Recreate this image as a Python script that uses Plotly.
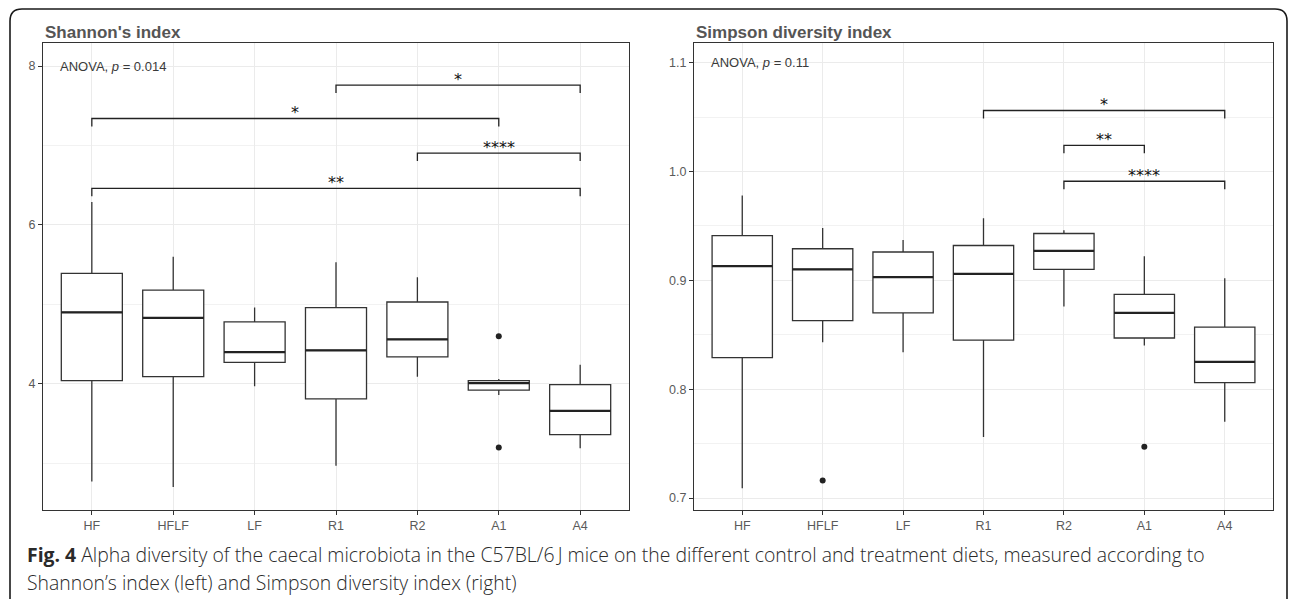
import plotly.graph_objects as go
from plotly.subplots import make_subplots

groups = ["HF", "HFLF", "LF", "R1", "R2", "A1", "A4"]
positions = list(range(len(groups)))

# Shannon's index (box statistics)
shannon_lower = [2.77, 2.70, 3.97, 2.97, 4.09, 3.86, 3.19]
shannon_q1 = [4.04, 4.09, 4.27, 3.81, 4.34, 3.92, 3.36]
shannon_median = [4.90, 4.83, 4.40, 4.42, 4.56, 4.01, 3.66]
shannon_q3 = [5.39, 5.18, 4.78, 4.96, 5.03, 4.04, 3.99]
shannon_upper = [6.29, 5.60, 4.96, 5.53, 5.34, 4.06, 4.24]
shannon_outlier_group = ["A1", "A1"]
shannon_outlier_value = [4.60, 3.20]

# Simpson diversity index (box statistics)
simpson_lower = [0.709, 0.843, 0.834, 0.756, 0.876, 0.840, 0.770]
simpson_q1 = [0.829, 0.863, 0.870, 0.845, 0.910, 0.847, 0.806]
simpson_median = [0.913, 0.910, 0.903, 0.906, 0.927, 0.870, 0.825]
simpson_q3 = [0.941, 0.929, 0.926, 0.932, 0.943, 0.887, 0.857]
simpson_upper = [0.978, 0.948, 0.937, 0.957, 0.946, 0.922, 0.902]
simpson_outlier_group = ["HFLF", "A1"]
simpson_outlier_value = [0.716, 0.747]

# Significance brackets: (group a, group b, height, label)
shannon_brackets = [("R1", "A4", 7.76, "*"), ("HF", "A1", 7.34, "*"),
                    ("R2", "A4", 6.905, "****"), ("HF", "A4", 6.46, "**")]
simpson_brackets = [("R1", "A4", 1.056, "*"), ("R2", "A1", 1.024, "**"),
                    ("R2", "A4", 0.991, "****")]

anova_labels = ["ANOVA, <i>p</i> = 0.014", "ANOVA, <i>p</i> = 0.11"]
anova_y = [8.0, 1.1]
panel_titles = ["Shannon's index", "Simpson diversity index"]

W, H = 1290, 599
def px(x):
    return x / W
def py(y):
    return 1 - y / H

fig = make_subplots(rows=1, cols=2)
LINE = "#333333"
BOXW = 0.75

panels = [
    dict(lower=shannon_lower, q1=shannon_q1, med=shannon_median, q3=shannon_q3, upper=shannon_upper,
         og=shannon_outlier_group, ov=shannon_outlier_value, br=shannon_brackets, tip=0.1,
         yrange=[2.412, 8.29], dtick=2, minor=1, fmt=".0f", tick0=0),
    dict(lower=simpson_lower, q1=simpson_q1, med=simpson_median, q3=simpson_q3, upper=simpson_upper,
         og=simpson_outlier_group, ov=simpson_outlier_value, br=simpson_brackets, tip=0.0073,
         yrange=[0.689, 1.118], dtick=0.1, minor=0.05, fmt=".1f", tick0=0),
]

for c, p in enumerate(panels, start=1):
    xr = f"x{c}" if c > 1 else "x"
    yr = f"y{c}" if c > 1 else "y"
    fig.add_trace(go.Box(x=positions, q1=p["q1"], median=p["med"], q3=p["q3"],
                         lowerfence=p["lower"], upperfence=p["upper"],
                         width=BOXW, whiskerwidth=0, boxpoints=False,
                         fillcolor="white", line=dict(color=LINE, width=1.3),
                         showlegend=False, hoverinfo="skip"), row=1, col=c)
    # thicker median lines
    mx, my = [], []
    for i, m in zip(positions, p["med"]):
        mx += [i - BOXW / 2, i + BOXW / 2, None]
        my += [m, m, None]
    fig.add_trace(go.Scatter(x=mx, y=my, mode="lines", line=dict(color="#222222", width=2.3),
                             showlegend=False, hoverinfo="skip"), row=1, col=c)
    # outliers
    fig.add_trace(go.Scatter(x=[groups.index(g) for g in p["og"]], y=p["ov"], mode="markers",
                             marker=dict(color="#222222", size=6),
                             showlegend=False, hoverinfo="skip"), row=1, col=c)
    # brackets
    bx, by = [], []
    for a, b, h, lab in p["br"]:
        ia, ib = groups.index(a), groups.index(b)
        bx += [ia, ia, ib, ib, None]
        by += [h - p["tip"], h, h, h - p["tip"], None]
        fig.add_annotation(x=(ia + ib) / 2, y=h, text=lab, showarrow=False,
                           xref=xr, yref=yr, yanchor="bottom", yshift=-6,
                           font=dict(family="DejaVu Sans", size=16, color="#111111"))
    fig.add_trace(go.Scatter(x=bx, y=by, mode="lines", line=dict(color="#222222", width=1.3),
                             showlegend=False, hoverinfo="skip"), row=1, col=c)
    fig.add_annotation(x=-0.41, y=anova_y[c - 1], text=anova_labels[c - 1], showarrow=False,
                       xref=xr, yref=yr, xanchor="left", yanchor="middle",
                       font=dict(family="Liberation Sans", size=13, color="#3a3a3a"))
    fig.update_yaxes(row=1, col=c, range=p["yrange"], dtick=p["dtick"], tick0=p["tick0"],
                     tickformat=p["fmt"], showgrid=True, gridcolor="#ebebeb", gridwidth=1,
                     minor=dict(dtick=p["minor"], showgrid=True, gridcolor="#f2f2f2", gridwidth=0.6),
                     ticks="outside", ticklen=4, tickcolor=LINE,
                     showline=True, mirror=True, linecolor=LINE, linewidth=1.2,
                     zeroline=False,
                     tickfont=dict(family="Liberation Sans", size=12.5, color="#5a5a5a"))
    fig.update_xaxes(row=1, col=c, range=[-0.6, 6.6], tickvals=positions, ticktext=groups,
                     showgrid=True, gridcolor="#ebebeb", gridwidth=1,
                     ticks="outside", ticklen=4, tickcolor=LINE,
                     showline=True, mirror=True, linecolor=LINE, linewidth=1.2,
                     zeroline=False,
                     tickfont=dict(family="Liberation Sans", size=12.5, color="#5a5a5a"))

# panel domains
fig.update_xaxes(domain=[px(43), px(629)], row=1, col=1)
fig.update_xaxes(domain=[px(694), px(1273)], row=1, col=2)
fig.update_yaxes(domain=[py(510), py(43)])

# panel titles
for xpos, t in zip([43, 694], panel_titles):
    fig.add_annotation(x=px(xpos), y=py(32), xref="paper", yref="paper", text=f"<b>{t}</b>",
                       showarrow=False, xanchor="left", yanchor="middle",
                       font=dict(family="Liberation Sans", size=17, color="#555555"))

# caption
caption_lines = [
    "<b>Fig. 4</b> Alpha diversity of the caecal microbiota in the C57BL/6\u2009J mice on the different control and treatment diets, measured according to",
    "Shannon\u2019s index (left) and Simpson diversity index (right)",
]
for yy, line in zip([554, 582], caption_lines):
    fig.add_annotation(x=px(25), y=py(yy), xref="paper", yref="paper", text=line,
                       showarrow=False, xanchor="left", yanchor="middle",
                       font=dict(family="Open Sans", size=19.4, color="#2a2a2a", weight=300))

# outer rounded frame
r = 12
x0, y0, x1, y1 = px(10), py(9), px(1287), py(599)
rx, ry = r / W, r / H
path = (f"M {x0} {y1} L {x0} {y0 - ry} Q {x0} {y0} {x0 + rx} {y0} "
        f"L {x1 - rx} {y0} Q {x1} {y0} {x1} {y0 - ry} L {x1} {y1}")
fig.add_shape(type="path", path=path, xref="paper", yref="paper",
              line=dict(color="#1a1a1a", width=1.6), layer="above")

fig.update_layout(width=W, height=H, margin=dict(l=0, r=0, t=0, b=0),
                  plot_bgcolor="white", paper_bgcolor="white", showlegend=False)

fig.write_html("out.html")
